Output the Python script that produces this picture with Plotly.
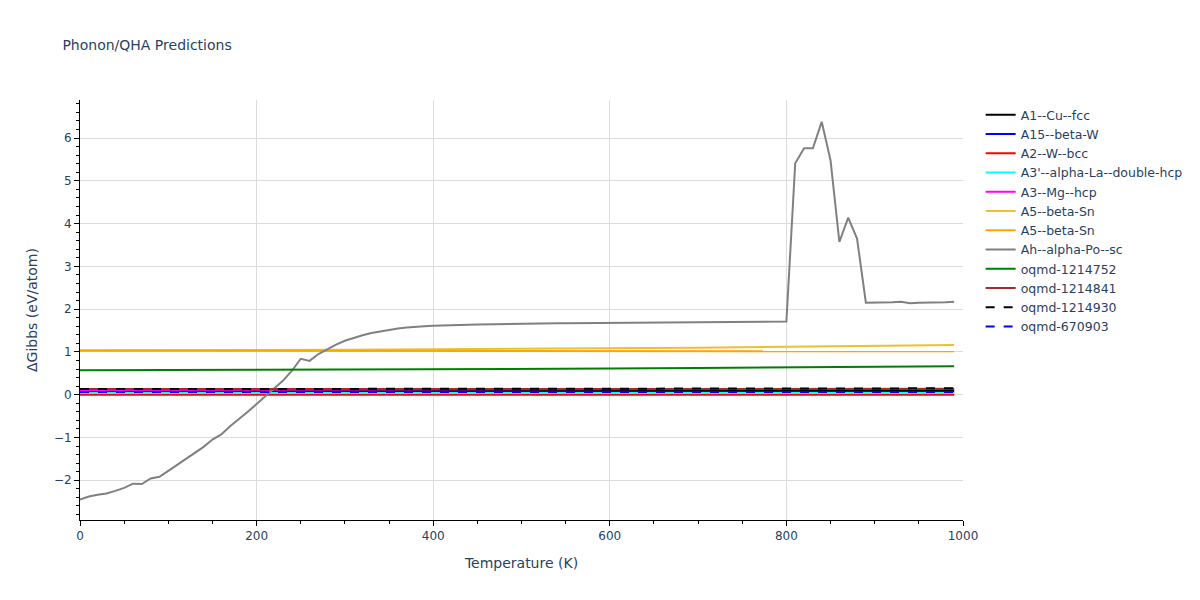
import plotly.graph_objects as go

# Temperature grid for the Ah--alpha-Po--sc curve (every 10 K, 0..990)
T = list(range(0, 1000, 10))

po_sc = [-2.45, -2.38, -2.34, -2.31, -2.25, -2.18, -2.08, -2.09, -1.96, -1.92,
         -1.78, -1.64, -1.52, -1.37, -1.22, -1.05, -0.93, -0.74, -0.58, -0.40,
         -0.22, -0.04, 0.14, 0.33, 0.56, 0.84, 0.79, 0.95, 1.06, 1.17,
         1.26, 1.33, 1.39, 1.44, 1.48, 1.51, 1.545, 1.57, 1.59, 1.60,
         1.612, 1.622, 1.628, 1.633, 1.638, 1.643, 1.648, 1.652, 1.656, 1.659,
         1.662, 1.665, 1.667, 1.669, 1.671, 1.673, 1.675, 1.677, 1.679, 1.681,
         1.683, 1.685, 1.687, 1.689, 1.691, 1.693, 1.695, 1.697, 1.699, 1.700,
         1.701, 1.702, 1.703, 1.704, 1.705, 1.706, 1.707, 1.708, 1.709, 1.710,
         1.71, 5.41, 5.76, 5.76, 6.38, 5.48, 3.57, 4.14, 3.65, 2.15,
         2.15, 2.15, 2.16, 2.17, 2.14, 2.15, 2.15, 2.16, 2.16, 2.17]

# Temperature points read for the nearly flat series
T_flat = [0, 100, 200, 300, 400, 500, 600, 700, 800, 900, 990]

cu_fcc = [0.09, 0.09, 0.09, 0.09, 0.09, 0.09, 0.09, 0.09, 0.09, 0.09, 0.09]
beta_w = [0.06, 0.06, 0.06, 0.06, 0.06, 0.06, 0.06, 0.06, 0.06, 0.06, 0.06]
w_bcc = [0.0, 0.0, 0.0, 0.0, 0.0, 0.0, 0.0, 0.0, 0.0, 0.0, 0.0]
la_dhcp = [0.04, 0.04, 0.04, 0.04, 0.04, 0.04, 0.04, 0.04, 0.04, 0.04, 0.04]
mg_hcp = [0.11, 0.113, 0.116, 0.119, 0.122, 0.125, 0.128, 0.131, 0.134, 0.137, 0.14]
sn_a = [1.04, 1.04, 1.045, 1.05, 1.06, 1.07, 1.085, 1.10, 1.12, 1.14, 1.16]
sn_b = [1.03, 1.03, 1.028, 1.027, 1.025, 1.024, 1.022, 1.02, 1.018, 1.016, 1.015]
oqmd_1214752 = [0.57, 0.575, 0.58, 0.585, 0.59, 0.60, 0.61, 0.625, 0.64, 0.655, 0.665]
oqmd_1214841 = [0.13, 0.13, 0.13, 0.13, 0.13, 0.13, 0.13, 0.13, 0.13, 0.13, 0.13]
oqmd_1214930 = [0.13, 0.13, 0.13, 0.131, 0.132, 0.134, 0.136, 0.139, 0.142, 0.146, 0.15]
oqmd_670903 = [0.06, 0.06, 0.06, 0.06, 0.06, 0.06, 0.06, 0.06, 0.06, 0.06, 0.06]

series = [
    ("A1--Cu--fcc", T_flat, cu_fcc, "black", "solid"),
    ("A15--beta-W", T_flat, beta_w, "blue", "solid"),
    ("A2--W--bcc", T_flat, w_bcc, "red", "solid"),
    ("A3'--alpha-La--double-hcp", T_flat, la_dhcp, "cyan", "solid"),
    ("A3--Mg--hcp", T_flat, mg_hcp, "magenta", "solid"),
    ("A5--beta-Sn", T_flat, sn_a, "#EBC12F", "solid"),
    ("A5--beta-Sn", T_flat, sn_b, "orange", "solid"),
    ("Ah--alpha-Po--sc", T, po_sc, "grey", "solid"),
    ("oqmd-1214752", T_flat, oqmd_1214752, "green", "solid"),
    ("oqmd-1214841", T_flat, oqmd_1214841, "brown", "solid"),
    ("oqmd-1214930", T_flat, oqmd_1214930, "black", "dash"),
    ("oqmd-670903", T_flat, oqmd_670903, "blue", "dash"),
]

fig = go.Figure()
for name, x, y, color, dash in series:
    fig.add_trace(go.Scatter(x=x, y=y, mode="lines", name=name,
                             line=dict(color=color, width=2, dash=dash)))

axis_common = dict(showline=True, linecolor="black", linewidth=1,
                   ticks="outside", tickcolor="black", ticklen=5,
                   showgrid=True, gridcolor="#dcdcdc", zeroline=False,
                   automargin=False)

fig.update_layout(
    title=dict(text="Phonon/QHA Predictions", font=dict(size=14),
               x=0.052, y=1 - 45 / 600, yanchor="middle"),
    width=1200, height=600,
    margin=dict(l=80, r=80, t=100, b=80),
    plot_bgcolor="white", paper_bgcolor="white",
    font=dict(family="DejaVu Sans", color="#2a3f5f", size=12),
    legend=dict(font=dict(size=12.5)),
    hovermode=False,
    xaxis=dict(title="Temperature (K)", range=[0, 1000], dtick=200,
               minor=dict(dtick=50, ticks="outside", ticklen=3, tickcolor="black", showgrid=False),
               **axis_common),
    yaxis=dict(title=dict(text="ΔGibbs (eV/atom)", standoff=12), range=[-2.93, 6.89], dtick=1,
               minor=dict(dtick=0.2, ticks="outside", ticklen=3, tickcolor="black", showgrid=False),
               **axis_common),
)

fig.write_html("out.html", config={"displayModeBar": False},
               post_script="document.body.style.margin='0';document.body.style.padding='0';")
